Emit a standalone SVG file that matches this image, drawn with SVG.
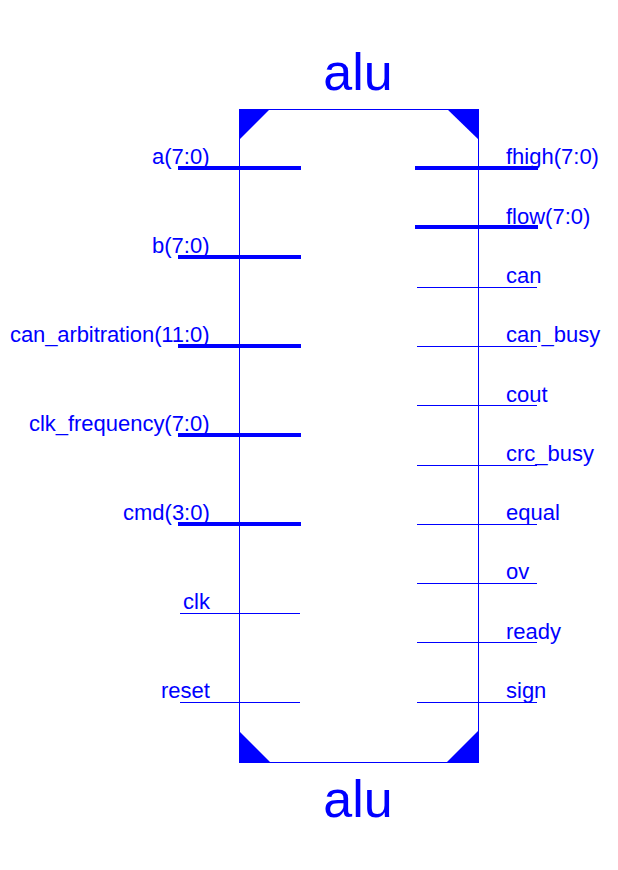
<svg xmlns="http://www.w3.org/2000/svg" width="618" height="870" viewBox="0 0 618 870">
<style>
text{font-family:"Liberation Sans",Arial,sans-serif;fill:#0000ff}
.t{font-size:52px;text-anchor:middle}
.l{font-size:22px}
.e{text-anchor:end}
.bus{stroke:#0000ff;stroke-width:4;fill:none}
.sig{stroke:#0000ff;stroke-width:1;fill:none}
.c{fill:#0000ff;stroke:none}
</style>
<rect width="618" height="870" fill="#ffffff"/>
<g id="alu">
<rect x="239.5" y="109.5" width="239" height="653" fill="none" stroke="#0000ff" stroke-width="1"/>
<polygon class="c" points="239,109 270,109 239,140"/>
<polygon class="c" points="447,109 479,109 479,140"/>
<polygon class="c" points="239,731 271,763 239,763"/>
<polygon class="c" points="479,730 446,763 479,763"/>
<text class="t" x="358" y="90">alu</text>
<text class="t" x="358" y="817">alu</text>
</g>
<g id="connectors">
<path class="bus" d="M178 168H301M178 257H301M178 346H301M178 435H301M178 524H301"/>
<path class="sig" d="M180 613.500H300M180 702.500H300"/>
<path class="bus" d="M415 168H538M415 227H538"/>
<path class="sig" d="M417 287.500H537M417 346.500H537M417 405.500H537M417 465.500H537M417 524.500H537M417 583.500H537M417 642.500H537M417 702.500H537"/>
</g>
<g id="port-a"><text class="l e" x="209.500" y="164">a(7:0)</text></g>
<g id="port-b"><text class="l e" x="209.500" y="253">b(7:0)</text></g>
<g id="port-can_arbitration"><text class="l" x="10" y="342" textLength="199.500" lengthAdjust="spacing">can_arbitration(11:0)</text></g>
<g id="port-clk_frequency"><text class="l" x="29" y="431" textLength="180.500" lengthAdjust="spacing">clk_frequency(7:0)</text></g>
<g id="port-cmd"><text class="l e" x="209.800" y="520">cmd(3:0)</text></g>
<g id="port-clk"><text class="l e" x="210" y="609">clk</text></g>
<g id="port-reset"><text class="l e" x="209.800" y="698">reset</text></g>
<g id="port-fhigh"><text class="l" x="506" y="164">fhigh(7:0)</text></g>
<g id="port-flow"><text class="l" x="506" y="224">flow(7:0)</text></g>
<g id="port-can"><text class="l" x="506" y="283">can</text></g>
<g id="port-can_busy"><text class="l" x="506" y="342">can_busy</text></g>
<g id="port-cout"><text class="l" x="506" y="402">cout</text></g>
<g id="port-crc_busy"><text class="l" x="506" y="461">crc_busy</text></g>
<g id="port-equal"><text class="l" x="506" y="520">equal</text></g>
<g id="port-ov"><text class="l" x="506" y="579">ov</text></g>
<g id="port-ready"><text class="l" x="506" y="639">ready</text></g>
<g id="port-sign"><text class="l" x="506" y="698">sign</text></g>
</svg>
